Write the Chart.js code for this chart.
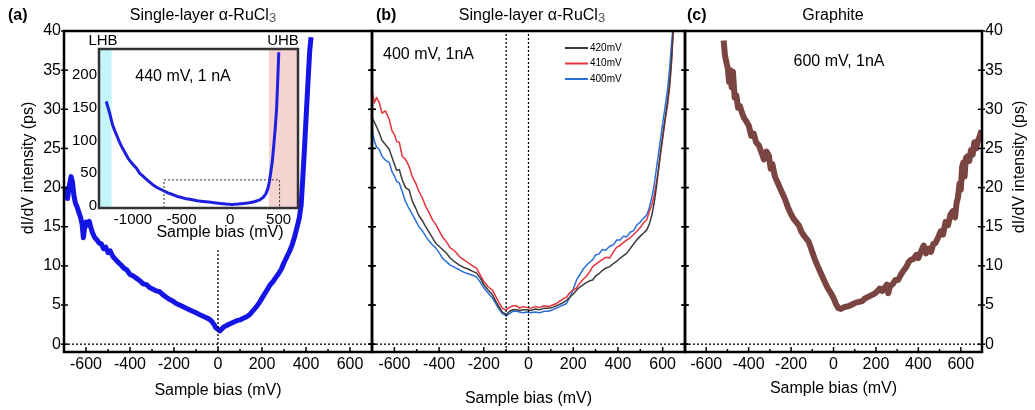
<!DOCTYPE html>
<html>
<head>
<meta charset="utf-8">
<script src="https://cdn.jsdelivr.net/npm/chart.js@4.4.0/dist/chart.umd.min.js"></script>
<style>
  body { margin: 0; background: #fff; }
  #wrap { position: relative; width: 1035px; height: 410px; background: #fff; }
  canvas { position: absolute; }
</style>
</head>
<body>
<div id="wrap">
  <canvas id="chartA" width="380" height="410" style="left:0;top:0"></canvas>
  <canvas id="chartB" width="400" height="410" style="left:300px;top:0"></canvas>
  <canvas id="chartC" width="415" height="410" style="left:620px;top:0"></canvas>
  <canvas id="inset" width="250" height="220" style="left:60px;top:25px"></canvas>
</div>
<script>
// tick labels
const biasTicks = [-600, -400, -200, 0, 200, 400, 600];
const minorBiasTicks = [-500, -300, -100, 100, 300, 500];
const dosTicks = [0, 5, 10, 15, 20, 25, 30, 35, 40];
const insetBiasTicks = [-1000, -500, 0, 500];
const insetDosTicks = [0, 50, 100, 150, 200];

// (a) single-layer RuCl3, 440 mV / 1 nA
const biasA = [
  -700, -692, -684, -676, -668, -662, -655, -648, -640, -632,
  -625, -618, -612, -607, -600, -592, -585, -578, -570, -560,
  -550, -540, -530, -520, -510, -500, -490, -478, -465, -452,
  -440, -428, -415, -400, -385, -370, -355, -340, -325, -310,
  -295, -280, -265, -250, -235, -220, -205, -190, -175, -160,
  -145, -130, -115, -100, -85, -70, -55, -40, -28, -18,
  -10, 0, 8, 16, 26, 40, 55, 70, 85, 100,
  115, 130, 145, 160, 175, 190, 205, 220, 235, 250,
  262, 275, 288, 300, 312, 324, 336, 348, 360, 370,
  378, 386, 394, 402, 410, 417, 423
];
const dosA = [
  19.0, 19.8, 18.6, 20.2, 21.4, 20.8, 19.0, 18.0, 17.5, 16.8,
  16.2, 15.4, 13.6, 14.8, 15.6, 15.2, 15.7, 14.9, 14.2, 13.6,
  13.3, 12.9, 12.8, 12.2, 12.4, 11.7, 11.9, 11.2, 10.8, 10.4,
  10.1, 9.7, 9.5, 8.9, 8.7, 8.4, 8.1, 7.7, 7.6, 7.2,
  7.0, 6.8, 6.7, 6.3, 6.0, 5.7, 5.5, 5.2, 5.0, 4.8,
  4.6, 4.4, 4.2, 4.0, 3.8, 3.6, 3.4, 3.2, 2.9, 2.5,
  2.1, 1.9, 1.7, 1.9, 2.2, 2.4, 2.6, 2.8, 3.0, 3.1,
  3.3, 3.5, 3.8, 4.3, 4.8, 5.4, 6.1, 6.8, 7.5, 8.0,
  8.5, 9.0, 9.6, 10.4, 11.1, 11.8, 12.6, 13.7, 15.0, 16.2,
  17.8, 21.5, 25.5, 29.8, 34.0, 37.5, 39.2
];

// (a) inset, wide bias range
const biasInset = [
  -1275, -1260, -1242, -1225, -1210, -1190, -1170, -1140, -1110, -1080,
  -1050, -1020, -990, -960, -930, -900, -870, -840, -800, -760,
  -720, -680, -640, -600, -550, -500, -450, -400, -340, -280,
  -220, -160, -100, -40, 20, 80, 140, 200, 250, 300,
  340, 370, 390, 405, 420, 435, 450, 465, 480, 492,
  502
];
const dosInset = [
  160, 152, 143, 133, 124, 116, 109, 98, 89, 81,
  73, 67, 62, 57, 50, 46, 42, 38, 33, 29,
  26, 23, 20, 18, 15, 13, 11, 10, 8, 7,
  6, 5, 4, 3, 2.5, 3, 4, 5, 6.5, 9,
  13, 19, 27, 37, 52, 68, 92, 118, 150, 195,
  235
];

// (b) three set-point voltages
const seriesB = ['420mV', '410mV', '400mV'];
const biasB = [
  -700, -690, -680, -668, -655, -640, -623, -610, -600, -590,
  -578, -565, -550, -534, -520, -505, -490, -475, -460, -445,
  -430, -415, -400, -385, -370, -350, -330, -309, -290, -270,
  -250, -233, -215, -200, -180, -161, -145, -130, -117, -105,
  -99, -85, -70, -54, -40, -25, -9, 10, 30, 50,
  70, 90, 108, 125, 140, 155, 170, 185, 200, 215,
  230, 245, 260, 275, 287, 300, 315, 330, 345, 363,
  380, 395, 410, 425, 439, 455, 470, 484, 500, 515,
  529, 540, 552, 562, 572, 582, 592, 602, 612, 622,
  632, 640, 648
];
const dos420 = [
  29.0, 28.4, 27.8, 27.0, 26.0, 25.5, 24.9, 23.8, 23.0, 22.2,
  22.3, 21.0, 20.0, 19.7, 18.3, 17.4, 16.4, 15.8, 15.0, 14.3,
  13.6, 12.9, 12.5, 12.1, 11.7, 11.0, 10.5, 10.1, 9.8, 9.6,
  9.3, 9.1, 8.4, 7.6, 6.9, 6.3, 5.4, 4.7, 4.1, 3.9,
  3.8, 4.2, 4.4, 4.4, 4.3, 4.4, 4.4, 4.3, 4.5, 4.4,
  4.6, 4.6, 4.7, 4.9, 5.1, 5.3, 5.6, 6.0, 6.4, 6.9,
  7.3, 7.6, 7.9, 8.1, 8.2, 8.7, 9.0, 9.4, 9.7, 9.9,
  10.3, 10.6, 11.0, 11.3, 11.6, 12.2, 12.8, 13.3, 13.8, 14.2,
  14.6, 15.3, 16.5, 18.0, 20.0, 22.5, 24.8, 27.0, 29.0, 31.0,
  33.5, 36.5, 40.5
];
const dos410 = [
  32.5, 30.8, 31.5, 30.9, 29.5, 29.8, 28.7, 27.2, 26.8, 25.9,
  25.8, 24.0, 23.6, 22.7, 21.4, 20.6, 19.5, 18.7, 17.6, 16.8,
  15.9, 15.3, 14.5, 13.7, 13.2, 12.3, 11.9, 11.2, 10.8, 10.4,
  10.0, 9.7, 8.8, 8.0, 7.3, 6.9, 6.0, 5.2, 4.6, 4.4,
  4.4, 4.7, 4.9, 4.9, 4.6, 4.8, 4.7, 4.6, 4.8, 4.7,
  4.9, 4.8, 5.0, 5.2, 5.5, 5.8, 6.0, 6.6, 6.9, 7.2,
  7.8, 8.3, 8.7, 9.3, 9.9, 10.2, 10.5, 10.8, 11.1, 11.0,
  11.8, 12.4, 12.6, 13.0, 13.3, 13.6, 14.0, 14.4, 14.9, 15.5,
  15.9, 16.9, 17.8, 19.0, 20.6, 22.4, 24.6, 26.6, 28.8, 30.5,
  33.0, 36.0, 40.5
];
const dos400 = [
  27.5, 26.0, 25.2, 24.9, 24.0, 23.5, 23.2, 22.0, 21.5, 20.8,
  20.6, 19.5, 18.2, 17.3, 16.6, 15.8, 15.0, 14.5, 13.8, 13.2,
  12.7, 12.3, 11.7, 11.0, 10.6, 10.1, 9.8, 9.5, 9.2, 9.0,
  8.8, 8.6, 7.9, 7.2, 6.5, 5.9, 5.1, 4.4, 3.9, 3.7,
  3.6, 3.9, 4.2, 4.2, 4.1, 4.0, 4.1, 4.0, 4.1, 4.0,
  4.2, 4.2, 4.4, 4.6, 4.8, 5.0, 5.2, 6.0, 7.0, 8.2,
  8.9, 9.6, 10.1, 10.5, 10.8, 11.4, 11.5, 12.1, 12.0, 12.5,
  12.7, 13.3, 13.3, 13.8, 13.7, 14.3, 14.5, 15.2, 15.6, 16.1,
  16.5, 17.4, 18.8, 20.3, 22.4, 24.4, 26.5, 28.6, 30.5, 32.5,
  35.5, 38.5, 41.0
];

// (c) graphite, 600 mV / 1 nA
const biasC = [
  -518, -512, -505, -498, -492, -486, -480, -474, -466, -458,
  -450, -441, -432, -422, -412, -399, -388, -376, -365, -352,
  -340, -328, -316, -305, -296, -288, -276, -266, -258, -245,
  -230, -215, -200, -185, -164, -150, -135, -117, -103, -89,
  -75, -60, -42, -28, -14, 0, 12, 23, 35, 48,
  60, 75, 90, 105, 120, 135, 146, 160, 175, 190,
  205, 218, 230, 240, 252, 258, 266, 280, 292, 305,
  318, 330, 342, 355, 366, 378, 390, 400, 413, 425,
  436, 448, 460, 470, 480, 493, 505, 516, 528, 540,
  552, 563, 573, 580, 587, 594, 600, 606, 612, 618,
  624, 632, 640, 648, 656, 664, 672, 681, 690, 698
];
const dosC = [
  38.8, 37.0, 36.0, 35.2, 33.5, 35.0, 32.8, 34.8, 31.5, 31.8,
  30.2, 30.4, 29.6, 28.9, 28.5, 27.9, 26.6, 26.9, 25.8, 25.4,
  24.5, 23.6, 24.6, 24.1, 22.4, 23.0, 21.4, 20.8, 20.3, 19.5,
  18.6, 17.5, 16.6, 15.9, 15.2, 14.3, 13.7, 13.1, 12.0, 10.9,
  10.0, 9.1, 8.0, 7.2, 6.6, 5.9, 5.1, 4.6, 4.5, 4.7,
  4.8, 4.9, 5.1, 5.3, 5.4, 5.5, 5.8, 6.0, 6.2, 6.4,
  6.7, 7.1, 6.8, 7.2, 7.6, 6.5, 7.4, 7.7, 8.2, 8.2,
  8.9, 9.4, 9.8, 10.5, 10.8, 10.9, 11.4, 11.0, 11.9, 12.6,
  11.6, 12.2, 11.8, 12.8, 12.9, 13.6, 14.4, 14.0, 15.6, 15.2,
  16.6, 17.0, 16.2, 18.0, 18.8, 20.5, 19.7, 22.6, 23.2, 21.4,
  23.8, 24.0, 23.4, 24.8, 24.2, 25.8, 25.0, 26.0, 26.6, 27.3
];

const FONT = '"Liberation Sans", Arial, sans-serif';
Chart.defaults.font.family = FONT;
Chart.defaults.font.size = 16;
Chart.defaults.color = '#000';

function pts(xs, ys) {
  return xs.map((x, i) => ({ x: x, y: ys[i] }));
}

function fixTicks(list) {
  return function(scale) { scale.ticks = list.map(v => ({ value: v })); };
}

function line(ctx, x1, y1, x2, y2) {
  ctx.beginPath();
  ctx.moveTo(x1, y1);
  ctx.lineTo(x2, y2);
  ctx.stroke();
}

function drawText(ctx, t, ox, oy) {
  const size = t.size || 16;
  const font = (t.bold ? 'bold ' : '') + size + 'px ' + FONT;
  ctx.save();
  ctx.translate(t.x - ox, t.y - oy);
  if (t.rot) ctx.rotate(t.rot);
  ctx.textBaseline = 'middle';
  ctx.fillStyle = '#000';
  ctx.font = font;
  if (t.sub) {
    const subFont = (size - 3) + 'px ' + FONT;
    const w1 = ctx.measureText(t.text).width;
    ctx.font = subFont;
    const w2 = ctx.measureText(t.sub).width;
    const x0 = -(w1 + w2) / 2;
    ctx.textAlign = 'left';
    ctx.font = font;
    ctx.fillText(t.text, x0, 0);
    ctx.font = subFont;
    ctx.fillStyle = '#555';
    ctx.fillText(t.sub, x0 + w1, 2);
  } else {
    ctx.textAlign = t.align || 'center';
    ctx.fillText(t.text, 0, 0);
  }
  ctx.restore();
}

// frame, dotted guides, inward ticks, bands and labels
const decor = {
  id: 'decor',
  beforeDatasetsDraw(chart, args, o) {
    const ctx = chart.ctx, a = chart.chartArea, xs = chart.scales.x;
    (o.bands || []).forEach(b => {
      const x1 = Math.max(xs.getPixelForValue(b.from), a.left);
      const x2 = Math.min(xs.getPixelForValue(b.to), a.right);
      ctx.fillStyle = b.color;
      ctx.fillRect(x1, a.top, x2 - x1, a.bottom - a.top);
    });
  },
  afterDatasetsDraw(chart, args, o) {
    const ctx = chart.ctx, a = chart.chartArea;
    const xs = chart.scales.x, ys = chart.scales.y;
    const ox = o.ox || 0, oy = o.oy || 0;
    ctx.save();

    ctx.strokeStyle = '#000';
    ctx.lineWidth = 1.3;
    ctx.setLineDash([2, 2]);
    if (o.zeroLine) {
      const y = ys.getPixelForValue(0);
      line(ctx, a.left, y, a.right, y);
    }
    (o.vlines || []).forEach(v => {
      const x = xs.getPixelForValue(v.x);
      const yTop = v.to === undefined ? a.top : ys.getPixelForValue(v.to);
      line(ctx, x, a.bottom, x, yTop);
    });
    if (o.box) {
      ctx.strokeStyle = '#333';
      ctx.lineWidth = 1;
      const x1 = xs.getPixelForValue(o.box.x1), x2 = xs.getPixelForValue(o.box.x2);
      const y2 = ys.getPixelForValue(o.box.y2);
      ctx.beginPath();
      ctx.moveTo(x1, a.bottom);
      ctx.lineTo(x1, y2);
      ctx.lineTo(x2, y2);
      ctx.lineTo(x2, a.bottom);
      ctx.stroke();
    }
    ctx.setLineDash([]);

    if (o.ticks) {
      ctx.strokeStyle = '#000';
      ctx.lineWidth = 1.5;
      xs.ticks.forEach(t => {
        const x = xs.getPixelForValue(t.value);
        line(ctx, x, a.bottom, x, a.bottom - 5);
      });
      minorBiasTicks.forEach(v => {
        const x = xs.getPixelForValue(v);
        line(ctx, x, a.bottom, x, a.bottom - 3);
      });
      ys.ticks.forEach(t => {
        const y = ys.getPixelForValue(t.value);
        line(ctx, a.left - 3, y, a.left + 4, y);
        line(ctx, a.right + 3, y, a.right - 4, y);
      });
    }

    if (o.frame) {
      ctx.strokeStyle = o.frame.color;
      ctx.lineWidth = o.frame.width;
      ctx.strokeRect(a.left, a.top, a.right - a.left, a.bottom - a.top);
    }

    (o.legend || []).forEach(l => {
      ctx.strokeStyle = l.color;
      ctx.lineWidth = 2;
      line(ctx, l.x - ox, l.y - oy, l.x + 23 - ox, l.y - oy);
      drawText(ctx, { text: l.text, x: l.x + 25, y: l.y, size: 10, align: 'left' }, ox, oy);
    });
    (o.texts || []).forEach(t => drawText(ctx, t, ox, oy));
    ctx.restore();
  }
};
Chart.register(decor);

function axes(opt) {
  return {
    x: {
      type: 'linear',
      min: opt.xmin,
      max: opt.xmax,
      afterBuildTicks: fixTicks(opt.xticks),
      afterFit: s => { s.height = opt.xh; },
      grid: { drawOnChartArea: false, drawTicks: false },
      border: { display: false },
      ticks: { padding: 3, autoSkip: false, maxRotation: 0, font: { size: opt.fs },
               callback: v => String(v) },
      title: opt.xtitle === undefined ? { display: false } :
        { display: true, text: 'Sample bias (mV)', font: { size: 16 },
          padding: { top: 0, bottom: opt.xtitle } }
    },
    y: {
      type: 'linear',
      position: opt.ypos || 'left',
      min: opt.ymin,
      max: opt.ymax,
      afterBuildTicks: fixTicks(opt.yticks),
      afterFit: s => { s.width = opt.yw; },
      grid: { drawOnChartArea: false, drawTicks: false },
      border: { display: false },
      ticks: { display: opt.ylabels, padding: opt.ypad || 3, font: { size: opt.fs },
               callback: v => String(v) }
    }
  };
}

function makeChart(id, datasets, scales, padding, decorOpts) {
  return new Chart(document.getElementById(id), {
    type: 'line',
    data: { datasets: datasets },
    options: {
      responsive: false,
      animation: false,
      events: [],
      layout: { padding: padding },
      elements: { point: { radius: 0 }, line: { tension: 0, borderJoinStyle: 'round' } },
      scales: scales,
      plugins: { legend: { display: false }, tooltip: { enabled: false }, decor: decorOpts }
    }
  });
}

const ruTitle = { text: 'Single-layer \u03b1-RuCl', sub: '3', size: 16 };
const yTitle = 'dI/dV intensity (ps)';

// panel (a)
makeChart('chartA',
  [{ data: pts(biasA, dosA), borderColor: '#1414e6', borderWidth: 5 }],
  axes({ xmin: -700, xmax: 700, xticks: biasTicks, xh: 58, xtitle: 10, fs: 16,
         ymin: -1, ymax: 40, yticks: dosTicks, yw: 64, ylabels: true }),
  { left: 0, right: 8, top: 31, bottom: 0 },
  {
    frame: { color: '#000', width: 2.5 }, zeroLine: true, ticks: true,
    vlines: [{ x: 0, to: 12 }],
    texts: [
      { text: '(a)', x: 8, y: 16, bold: true, align: 'left' },
      Object.assign({ x: 203, y: 16 }, ruTitle),
      { text: yTitle, x: 29, y: 168, rot: -Math.PI / 2 }
    ]
  });

// inset of (a)
makeChart('inset',
  [{ data: pts(biasInset, dosInset), borderColor: '#1f1fe0', borderWidth: 3 }],
  axes({ xmin: -1350, xmax: 700, xticks: insetBiasTicks, xh: 37, fs: 15,
         ymin: -3, ymax: 240, yticks: insetDosTicks, yw: 39, ylabels: true, ypad: 2 }),
  { left: 0, right: 12, top: 24, bottom: 0 },
  {
    ox: 60, oy: 25,
    frame: { color: '#333', width: 2.5 },
    bands: [{ from: -1350, to: -1220, color: '#c4f5f8' }, { from: 400, to: 700, color: '#f4d3d1' }],
    box: { x1: -680, x2: 510, y2: 40 },
    texts: [
      { text: 'LHB', x: 103, y: 41, size: 15 },
      { text: 'UHB', x: 283, y: 41, size: 15 },
      { text: '440 mV, 1 nA', x: 183, y: 77 },
      { text: 'Sample bias (mV)', x: 220, y: 233 }
    ]
  });

// panel (b)
const colorsB = ['#3c3c3c', '#e8323a', '#2a6fd8'];
makeChart('chartB',
  [dos420, dos410, dos400].map((d, i) => ({
    label: seriesB[i], data: pts(biasB, d), borderColor: colorsB[i], borderWidth: 1.5
  })),
  axes({ xmin: -700, xmax: 700, xticks: biasTicks, xh: 58, xtitle: 2, fs: 16,
         ymin: -1, ymax: 40, yticks: dosTicks, yw: 72, ylabels: false }),
  { left: 0, right: 15, top: 31, bottom: 0 },
  {
    ox: 300,
    frame: { color: '#000', width: 2.5 }, zeroLine: true, ticks: true,
    vlines: [{ x: -100 }, { x: 0 }],
    legend: seriesB.map((s, i) => ({ text: s, color: colorsB[i], x: 565, y: 48 + i * 15.5 })),
    texts: [
      { text: '(b)', x: 376, y: 16, bold: true, align: 'left' },
      Object.assign({ x: 532, y: 16 }, ruTitle),
      { text: '400 mV, 1nA', x: 383, y: 55, align: 'left' }
    ]
  });

// panel (c)
makeChart('chartC',
  [{ data: pts(biasC, dosC), borderColor: '#7a4541', borderWidth: 6 }],
  axes({ xmin: -700, xmax: 700, xticks: biasTicks, xh: 58, xtitle: 12, fs: 16,
         ymin: -1, ymax: 40, yticks: dosTicks, yw: 53, ylabels: true, ypos: 'right' }),
  { left: 65, right: 0, top: 31, bottom: 0 },
  {
    ox: 620,
    frame: { color: '#000', width: 2.5 }, zeroLine: true, ticks: true,
    texts: [
      { text: '(c)', x: 687, y: 16, bold: true, align: 'left' },
      { text: 'Graphite', x: 833, y: 16 },
      { text: '600 mV, 1nA', x: 839, y: 62 },
      { text: yTitle, x: 1020, y: 167, rot: -Math.PI / 2 }
    ]
  });
</script>
</body>
</html>
